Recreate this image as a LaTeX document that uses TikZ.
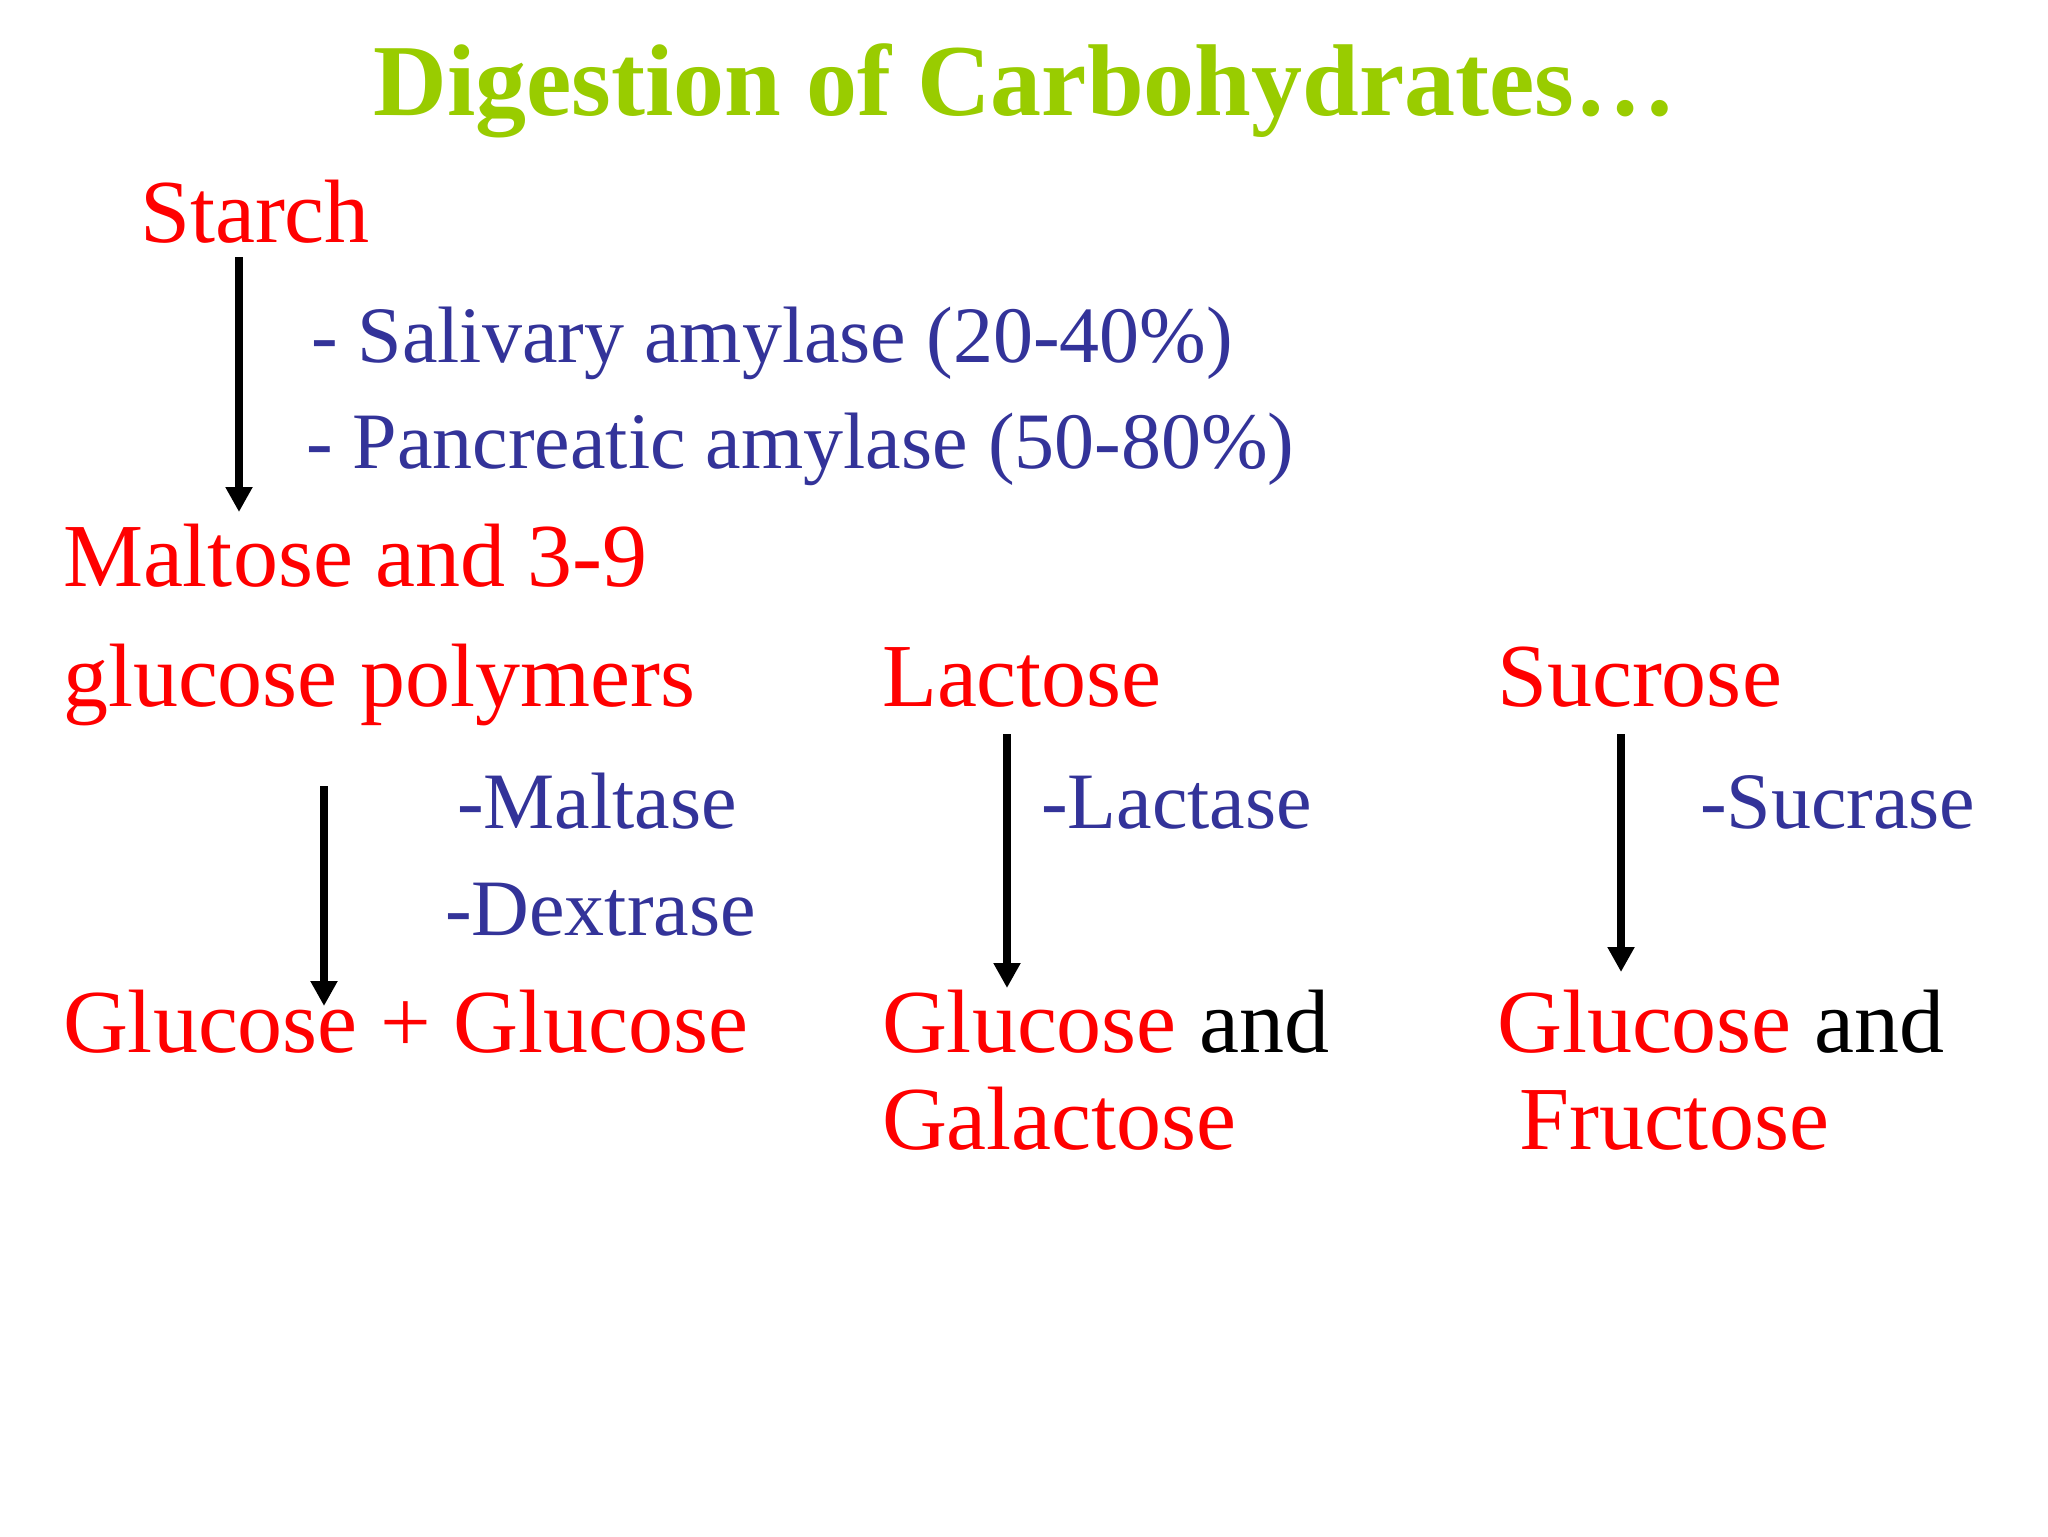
\documentclass[tikz,border=0pt]{standalone}
\usepackage{fontspec}
\setmainfont{Liberation Serif}
\usetikzlibrary{arrows.meta}
\definecolor{titlegreen}{RGB}{153,204,0}
\definecolor{enzblue}{RGB}{51,51,153}
\definecolor{prodred}{RGB}{255,0,0}
\begin{document}
\begin{tikzpicture}[x=0.5pt,y=-0.5pt,
  lbl/.style={anchor=base west,inner sep=0pt,outer sep=0pt},
  prod/.style={lbl,text=prodred,font=\fontsize{45pt}{54pt}\selectfont},
  enz/.style={lbl,text=enzblue,font=\fontsize{40pt}{48pt}\selectfont},
  conv/.style={line width=3.7pt,-{Triangle[length=12.5pt,width=12.8pt]}}]
\useasboundingbox[fill=white] (0,0) rectangle (2048,1536);
\node[anchor=base,inner sep=0pt,text=titlegreen,font=\bfseries\fontsize{51pt}{60pt}\selectfont] (title) at (1025,115) {Digestion of Carbohydrates…};
% starch branch
\node[prod] (starch) at (140,242) {Starch};
\node[enz] (sal) at (311,362) {- Salivary amylase (20-40\%)};
\node[enz] (pan) at (306,468) {- Pancreatic amylase (50-80\%)};
\node[prod] (malt1) at (63,586) {Maltose and 3-9};
\node[prod] (malt2) at (63,706) {glucose polymers};
\coordinate (a1s) at (239,257);
\coordinate (a1e) at (239,512);
\draw[conv] (a1s) -- (a1e);
% maltose branch
\node[enz] (maltase) at (457,828) {-Maltase};
\node[enz] (dextrase) at (445,935) {-Dextrase};
\node[prod] (gg) at (63,1052) {Glucose + Glucose};
\coordinate (a2s) at (324,786);
\coordinate (a2e) at (324,1006);
\draw[conv] (a2s) -- (a2e);
% lactose branch
\node[prod] (lac) at (882,706) {Lactose};
\node[enz] (lactase) at (1041,828) {-Lactase};
\node[prod] (glcand1) at (882,1052) {Glucose \textcolor{black}{and}};
\node[prod] (gal) at (882,1149) {Galactose};
\coordinate (a3s) at (1007,734);
\coordinate (a3e) at (1007,988);
\draw[conv] (a3s) -- (a3e);
% sucrose branch
\node[prod] (suc) at (1497,706) {Sucrose};
\node[enz] (sucrase) at (1700,828) {-Sucrase};
\node[prod] (glcand2) at (1497,1052) {Glucose \textcolor{black}{and}};
\node[prod] (fru) at (1519,1149) {Fructose};
\coordinate (a4s) at (1621,734);
\coordinate (a4e) at (1621,972);
\draw[conv] (a4s) -- (a4e);
\end{tikzpicture}
\end{document}
